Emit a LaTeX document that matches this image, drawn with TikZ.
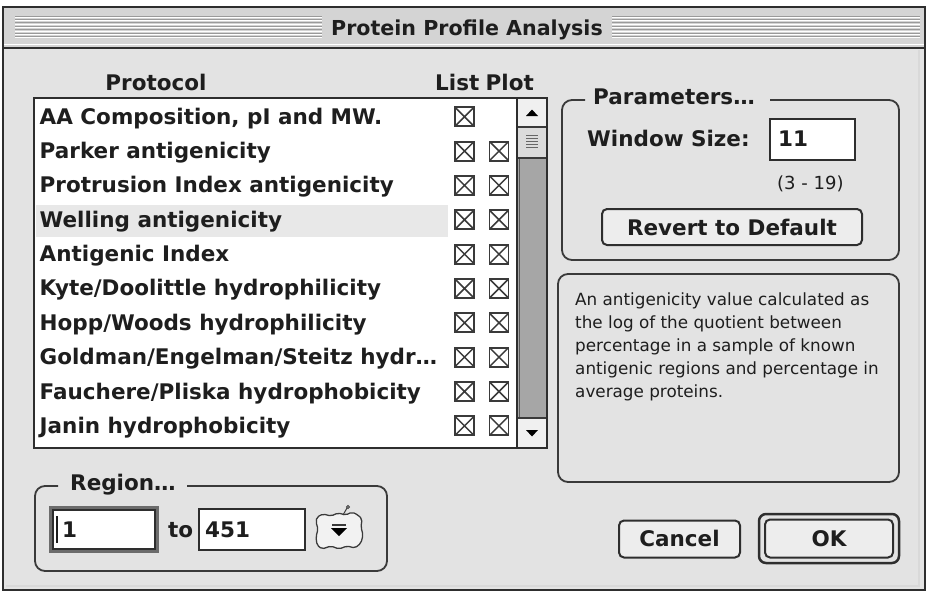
\documentclass[tikz,border=0pt]{standalone}
\usepackage{fontspec}
\setmainfont{DejaVu Sans}
\usetikzlibrary{calc}
\definecolor{winbg}{HTML}{E3E3E3}
\definecolor{titlebg}{HTML}{D4D4D4}
\definecolor{frame}{HTML}{2E2E2E}
\definecolor{txtdark}{HTML}{1E1E1E}
\definecolor{boxc}{HTML}{3A3A3A}
\definecolor{stripe}{HTML}{9A9A9A}
\definecolor{track}{HTML}{A6A6A6}
\definecolor{hilite}{HTML}{E8E8E8}
\definecolor{btnfill}{HTML}{EDEDED}
\begin{document}
\begin{tikzpicture}[x=1pt,y=-1pt,
  uitext/.style={inner sep=0pt, font=\fontsize{21.5}{21.5}\selectfont\bfseries, text=txtdark, anchor=base west},
  smalltext/.style={inner sep=0pt, font=\fontsize{16.8}{16.8}\selectfont, text=txtdark, anchor=base west},
  chk/.style={draw=boxc, line width=1.9pt, minimum size=19pt, inner sep=0pt, fill=white,
    path picture={\draw[boxc, line width=1.5pt] (path picture bounding box.north west) -- (path picture bounding box.south east)
      (path picture bounding box.north east) -- (path picture bounding box.south west);}},
  group/.style={draw=boxc, line width=1.8pt, rounded corners=10pt},
  field/.style={draw=frame, line width=2pt, fill=white},
  button/.style={draw=frame, line width=2pt, fill=btnfill, rounded corners=5pt}
]
\useasboundingbox (0,0) rectangle (928,592);
\fill[white] (0,0) rectangle (928,592);

% window
\fill[winbg] (3,48) rectangle (925,590);
\fill[titlebg] (3,7) rectangle (925,48);
\draw[white, line width=1pt] (4,44) -- (924,44);
\draw[white!85!black, line width=2pt] (919,50) -- (919,586) -- (6,586);
\foreach \k in {0,...,6}{
  \draw[stripe, line width=0.9pt] (15,{16+3.4*\k}) -- (322,{16+3.4*\k});
  \draw[stripe, line width=0.9pt] (612,{16+3.4*\k}) -- (920,{16+3.4*\k});
  \draw[white, line width=0.7pt] (15,{17.3+3.4*\k}) -- (322,{17.3+3.4*\k});
  \draw[white, line width=0.7pt] (612,{17.3+3.4*\k}) -- (920,{17.3+3.4*\k});
}
\draw[frame, line width=2.5pt] (3,7) rectangle (925,590);
\draw[frame, line width=2.5pt] (3,48) -- (925,48);
\node[uitext, anchor=base, font=\fontsize{20.6}{20.6}\selectfont\bfseries] (title) at (467,35) {Protein Profile Analysis};

% headers
\node[uitext, anchor=base] (hproto) at (156,90) {Protocol};
\node[uitext] (hlist) at (435,90) {List};
\node[uitext, anchor=base east] (hplot) at (534,90) {Plot};

% list box
\fill[white] (34,98) rectangle (547,448);
\fill[hilite] (36,205) rectangle (448,237);
\foreach \t [count=\i from 0] in {{AA Composition, pI and MW.},Parker antigenicity,Protrusion Index antigenicity,Welling antigenicity,Antigenic Index,Kyte/Doolittle hydrophilicity,Hopp/Woods hydrophilicity,Goldman/Engelman/Steitz hydr…,Fauchere/Pliska hydrophobicity,Janin hydrophobicity}{
  \pgfmathsetmacro{\yy}{116.7+34.35*\i}
  \node[uitext] (row\i) at (39.5,\yy+7.5) {\t};
  \node[chk] (list\i) at (464.5,\yy) {};
  \ifnum\i>0 \node[chk] (plot\i) at (499,\yy) {}; \fi
}
% scrollbar
\fill[track] (517,158) rectangle (547,418);
\draw[gray!70!black, line width=1pt] (519,158) -- (519,418);
\draw[boxc, line width=1.4pt, fill=white!94!black] (517,98) rectangle (547,127);
\fill[black] (526,116) -- (538,116) -- (532,109.5) -- cycle;
\draw[boxc, line width=1.4pt, fill=white!86!black] (517,127) rectangle (547,158);
\foreach \k in {0,...,4}{\draw[gray!80!black, line width=0.8pt] (526,{135+3.2*\k}) -- (538,{135+3.2*\k});}
\draw[boxc, line width=1.4pt, fill=white!94!black] (517,418) rectangle (547,448);
\fill[black] (526,430) -- (538,430) -- (532,436.5) -- cycle;
\draw[frame, line width=2pt] (34,98) rectangle (547,448) (517,98) -- (517,448);

% Parameters group
\draw[group] (585,100) -- (562,100) -- (562,260) -- (899,260) -- (899,100) -- (770,100);
\node[uitext] (lparam) at (593,104) {Parameters…};
\node[uitext] (lwin) at (587,146) {Window Size:};
\draw[field] (770,119) rectangle (855,160);
\node[uitext] (vwin) at (778,146) {11};
\node[smalltext, font=\fontsize{18}{18}\selectfont] (range) at (777,189) {(3 - 19)};
\node[button, minimum width=260pt, minimum height=36pt, inner sep=0pt] (revert) at (732,227) {};
\node[uitext, anchor=base] at (732,235) {Revert to Default};

% description box
\draw[group] (558,274) rectangle (899,482);
\node[smalltext] (d1) at (575,305) {An antigenicity value calculated as};
\node[smalltext] (d2) at (575,328) {the log of the quotient between};
\node[smalltext] (d3) at (575,351) {percentage in a sample of known};
\node[smalltext] (d4) at (575,374) {antigenic regions and percentage in};
\node[smalltext] (d5) at (575,397) {average proteins.};

% Region group
\draw[group] (58,486) -- (35,486) -- (35,571) -- (387,571) -- (387,486) -- (187,486);
\node[uitext] (lregion) at (70,490) {Region…};
\draw[fill=white, draw=gray!85!black, line width=4pt] (51,508) rectangle (157,551);
\draw[field] (53,510) rectangle (155,549);
\draw[txtdark, line width=1.2pt] (57,516) -- (57,543);
\node[uitext] (v1) at (62,537) {1};
\node[uitext] (lto) at (168,537) {to};
\draw[field] (199,509) rectangle (305,550);
\node[uitext] (v2) at (205,537) {451};
% popup icon
\draw[boxc, line width=1.3pt, fill=white!95!black, rounded corners=2pt]
  (317,517) -- (323,514) -- (331,516) -- (338,513) -- (346,515) -- (352,512) -- (358,515) -- (362,519)
  -- (361,527) -- (363,535) -- (361,543) -- (355,548) -- (347,546) -- (339,549) -- (331,546)
  -- (322,549) -- (317,545) -- (316,537) -- (318,529) -- (316,522) -- cycle;
\draw[boxc, line width=1pt] (343,515) -- (347,508);
\draw[boxc, line width=0.8pt] (348,507) circle (1.5pt);
\draw[boxc, line width=1.2pt] (332,525) -- (346,525);
\fill[black] (331,528) -- (347,528) -- (339,536) -- cycle;

% buttons
\node[button, minimum width=121pt, minimum height=37pt, inner sep=0pt] (cancel) at (679.5,539) {};
\node[uitext, anchor=base] at (679.5,546) {Cancel};
\draw[frame, line width=2.5pt, rounded corners=7pt] (759,514) rectangle (899,563);
\node[button, minimum width=128pt, minimum height=38pt, inner sep=0pt] (ok) at (829,538.5) {};
\node[uitext, anchor=base] at (829,546) {OK};
\end{tikzpicture}
\end{document}
